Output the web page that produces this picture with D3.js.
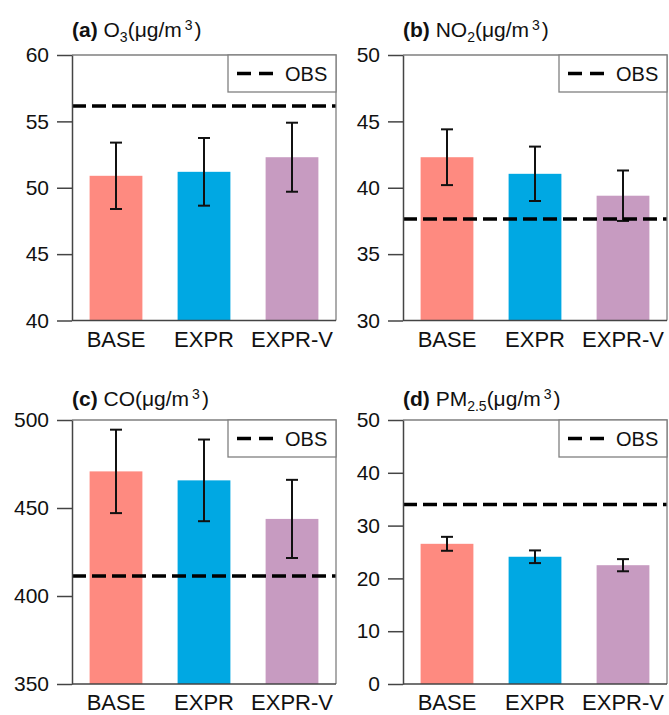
<!DOCTYPE html>
<html>
<head>
<meta charset="utf-8">
<script src="https://cdn.jsdelivr.net/npm/d3@7"></script>
<style>
  body { margin: 0; background: #fff; }
  svg { display: block; font-family: "Liberation Sans", Arial, sans-serif; }
</style>
</head>
<body>
<div id="chart"></div>
<script>
// data
var categories = ["BASE", "EXPR", "EXPR-V"];
var barColors = ["#fe8a80", "#00a8e3", "#c79bc1"];

var o3Vals = [50.9, 51.2, 52.3];
var o3Err = [2.5, 2.55, 2.6];
var o3Obs = 56.15;
var o3Ticks = [40, 45, 50, 55, 60];

var no2Vals = [42.3, 41.05, 39.4];
var no2Err = [2.1, 2.05, 1.9];
var no2Obs = 37.65;
var no2Ticks = [30, 35, 40, 45, 50];

var coVals = [470.8, 465.7, 443.8];
var coErr = [23.7, 23.2, 22.2];
var coObs = 411.4;
var coTicks = [350, 400, 450, 500];

var pmVals = [26.55, 24.1, 22.5];
var pmErr = [1.32, 1.2, 1.15];
var pmObs = 34.0;
var pmTicks = [0, 10, 20, 30, 40, 50];

var W = 669, H = 715;
var axisColor = "#444";
var frameColor = "#808080";

var svg = d3.select("#chart").append("svg")
    .attr("width", W)
    .attr("height", H);

var panels = [
  { tag: "(a)", name: "O", sub: "3", vals: o3Vals, err: o3Err, obs: o3Obs, ticks: o3Ticks,
    x0: 72, x1: 336, y0: 55, y1: 320.5, ty: 37 },
  { tag: "(b)", name: "NO", sub: "2", vals: no2Vals, err: no2Err, obs: no2Obs, ticks: no2Ticks,
    x0: 403, x1: 667, y0: 55, y1: 320.5, ty: 37 },
  { tag: "(c)", name: "CO", sub: "", vals: coVals, err: coErr, obs: coObs, ticks: coTicks,
    x0: 72, x1: 336, y0: 420, y1: 684, ty: 406 },
  { tag: "(d)", name: "PM", sub: "2.5", vals: pmVals, err: pmErr, obs: pmObs, ticks: pmTicks,
    x0: 403, x1: 667, y0: 420, y1: 684, ty: 406 }
];

panels.forEach(function(p){ drawPanel(p); });

function drawPanel(p){
  var g = svg.append("g");

  var x = d3.scaleBand()
      .domain(categories)
      .range([p.x0, p.x1])
      .paddingInner(0.4)
      .paddingOuter(0.2);

  var y = d3.scaleLinear()
      .domain([p.ticks[0], p.ticks[p.ticks.length - 1]])
      .range([p.y1, p.y0]);

  // bars
  g.selectAll("rect.bar")
    .data(p.vals)
    .enter().append("rect")
      .attr("class", "bar")
      .attr("x", function(d, i){ return x(categories[i]); })
      .attr("y", function(d){ return y(d); })
      .attr("width", x.bandwidth())
      .attr("height", function(d){ return p.y1 - y(d); })
      .attr("fill", function(d, i){ return barColors[i]; });

  // error bars
  var capW = 6;
  p.vals.forEach(function(v, i){
    var cx = x(categories[i]) + x.bandwidth() / 2;
    var lo = y(v - p.err[i]), hi = y(v + p.err[i]);
    g.append("line")
      .attr("x1", cx).attr("x2", cx)
      .attr("y1", hi).attr("y2", lo)
      .attr("stroke", "#111").attr("stroke-width", 2);
    [lo, hi].forEach(function(yy){
      g.append("line")
        .attr("x1", cx - capW).attr("x2", cx + capW)
        .attr("y1", yy).attr("y2", yy)
        .attr("stroke", "#111").attr("stroke-width", 2);
    });
  });

  // observed dashed line
  g.append("line")
    .attr("x1", p.x0).attr("x2", p.x1)
    .attr("y1", y(p.obs)).attr("y2", y(p.obs))
    .attr("stroke", "#000")
    .attr("stroke-width", 3.5)
    .attr("stroke-dasharray", "14,6");

  // frame top and right
  g.append("path")
    .attr("d", "M" + p.x0 + "," + p.y0 + "H" + p.x1 + "V" + p.y1)
    .attr("fill", "none")
    .attr("stroke", frameColor)
    .attr("stroke-width", 1.3);

  // y axis
  var yAxis = g.append("g")
    .attr("transform", "translate(" + p.x0 + ",0)")
    .call(d3.axisLeft(y).tickValues(p.ticks).tickSize(15).tickPadding(8).tickSizeOuter(0));
  yAxis.select(".domain").attr("stroke", axisColor).attr("stroke-width", 1.5);
  yAxis.selectAll(".tick line").attr("stroke", axisColor).attr("stroke-width", 1.5);
  yAxis.selectAll(".tick text")
    .attr("fill", "#111")
    .style("font-size", "21px")
    .style("font-family", "Liberation Sans, Arial, sans-serif");

  // x axis
  g.append("line")
    .attr("x1", p.x0).attr("x2", p.x1)
    .attr("y1", p.y1).attr("y2", p.y1)
    .attr("stroke", axisColor).attr("stroke-width", 1.5);

  g.selectAll("text.xlab")
    .data(categories)
    .enter().append("text")
      .attr("class", "xlab")
      .attr("x", function(d){ return x(d) + x.bandwidth() / 2; })
      .attr("y", p.y1 + 26)
      .attr("text-anchor", "middle")
      .attr("fill", "#111")
      .style("font-size", "22px")
      .text(function(d){ return d; });

  // title
  var t = g.append("text")
    .attr("x", p.x0)
    .attr("y", p.ty)
    .attr("fill", "#111")
    .style("font-size", "21px");
  t.append("tspan").attr("font-weight", "bold").text(p.tag + " ");
  t.append("tspan").text(p.name);
  if (p.sub) {
    t.append("tspan").attr("dy", 5).style("font-size", "14px").text(p.sub);
    t.append("tspan").attr("dy", -5).text("(μg/m");
  } else {
    t.append("tspan").text("(μg/m");
  }
  t.append("tspan").attr("dx", 3).attr("dy", -7).style("font-size", "14px").text("3");
  t.append("tspan").attr("dx", 2).attr("dy", 7).text(")");

  // legend
  var lw = 108, lh = 37;
  var lx = p.x1 - lw, ly = p.y0;
  g.append("rect")
    .attr("x", lx).attr("y", ly)
    .attr("width", lw).attr("height", lh)
    .attr("fill", "#fff")
    .attr("stroke", frameColor)
    .attr("stroke-width", 1.3);
  g.append("line")
    .attr("x1", lx + 9).attr("x2", lx + 45)
    .attr("y1", ly + lh / 2).attr("y2", ly + lh / 2)
    .attr("stroke", "#000")
    .attr("stroke-width", 3.5)
    .attr("stroke-dasharray", "14,8");
  g.append("text")
    .attr("x", lx + 57)
    .attr("y", ly + lh / 2 + 7)
    .attr("fill", "#111")
    .style("font-size", "20px")
    .text("OBS");
}
</script>
</body>
</html>
